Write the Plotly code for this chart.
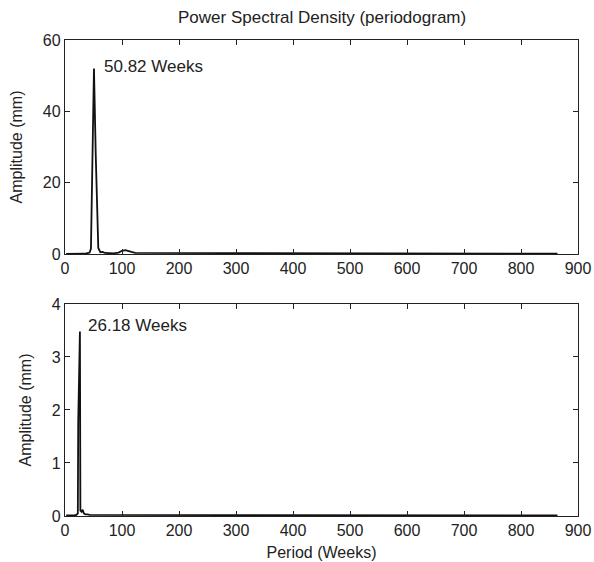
import plotly.graph_objects as go

# Top panel: period (weeks) vs amplitude (mm)
top_period = [864, 432, 288, 216, 172.8, 144, 123.4, 118, 112, 106, 100, 94, 85, 75, 70, 66,
              62, 58.4, 56.1, 53.9, 50.82, 47.9, 45.5, 43.2, 40, 37.6, 36, 34.6, 33.2, 32, 30,
              28, 26, 24, 20, 16, 12, 8, 4, 2]
top_amp = [0.1, 0.1, 0.1, 0.15, 0.2, 0.25, 0.3, 0.5, 0.8, 1.1, 0.9, 0.4, 0.2, 0.4, 0.3, 0.6,
           0.5, 1.7, 13.7, 28.0, 52.0, 27.0, 1.5, 0.4, 0.2, 0.15, 0.1, 0.1, 0.1, 0.1, 0.1,
           0.05, 0.05, 0.05, 0.05, 0.05, 0.05, 0.05, 0.05, 0.05]

# Bottom panel
bot_period = [864, 432, 288, 216, 172.8, 144, 108, 86.4, 72, 61.7, 54, 48, 43.2, 39.3,
              36, 33, 31, 29, 27, 26.18, 23.2, 22.5, 20, 16, 12, 8, 4, 2]
bot_amp = [0.01, 0.01, 0.01, 0.01, 0.01, 0.01, 0.01, 0.01, 0.01, 0.01, 0.01, 0.02, 0.02, 0.03,
           0.03, 0.05, 0.12, 0.08, 0.1, 3.48, 1.78, 0.05, 0.02, 0.01, 0.01, 0.01, 0.01, 0.01]

x_ticks = [0, 100, 200, 300, 400, 500, 600, 700, 800, 900]
top_y_ticks = [0, 20, 40, 60]
bot_y_ticks = [0, 1, 2, 3, 4]

title_text = "Power Spectral Density (periodogram)"
y_label = "Amplitude (mm)"
x_label = "Period (Weeks)"
top_peak_label = "50.82 Weeks"
bot_peak_label = "26.18 Weeks"

font_family = "Liberation Sans, Arial, sans-serif"
txt = "#222222"

fig = go.Figure()
fig.add_trace(go.Scatter(x=top_period, y=top_amp, mode="lines",
                         line=dict(color="#111111", width=1.8), xaxis="x", yaxis="y",
                         showlegend=False))
fig.add_trace(go.Scatter(x=bot_period, y=bot_amp, mode="lines",
                         line=dict(color="#111111", width=1.8), xaxis="x2", yaxis="y2",
                         showlegend=False))

axis_common = dict(showline=True, linecolor="#222222", linewidth=1.3, mirror="ticks",
                   ticks="inside", ticklen=5, tickcolor="#222222", showgrid=False,
                   zeroline=False, automargin=False,
                   tickfont=dict(family=font_family, size=16, color=txt))

fig.update_layout(
    width=594, height=562,
    margin=dict(l=65, r=16, t=40, b=46),
    paper_bgcolor="white", plot_bgcolor="white",
    font=dict(family=font_family, color=txt),
    hovermode=False,
    xaxis=dict(domain=[0, 1], range=[0, 900], tickvals=x_ticks, anchor="y", **axis_common),
    yaxis=dict(domain=[0.5504, 1], range=[0, 60], tickvals=top_y_ticks, anchor="x",
               title=dict(text=y_label, font=dict(size=16), standoff=16), **axis_common),
    xaxis2=dict(domain=[0, 1], range=[0, 900], tickvals=x_ticks, anchor="y2",
                title=dict(text=x_label, font=dict(size=16), standoff=8), **axis_common),
    yaxis2=dict(domain=[0, 0.4454], range=[0, 4], tickvals=bot_y_ticks, anchor="x2",
                title=dict(text=y_label, font=dict(size=16), standoff=16), **axis_common),
    annotations=[
        dict(text=title_text, x=0.5, y=1, xref="paper", yref="paper", xanchor="center",
             yanchor="bottom", yshift=11, showarrow=False, font=dict(size=17, color=txt)),
        dict(text=top_peak_label, x=64.4, y=52.5, xref="x", yref="y", xanchor="left",
             yanchor="middle", showarrow=False, font=dict(size=17, color=txt)),
        dict(text=bot_peak_label, x=36.8, y=3.6, xref="x2", yref="y2", xanchor="left",
             yanchor="middle", showarrow=False, font=dict(size=17, color=txt)),
    ],
)

fig.write_html("out.html", config={"displayModeBar": False},
               post_script="document.body.style.margin='0px';document.body.style.overflow='hidden';")
